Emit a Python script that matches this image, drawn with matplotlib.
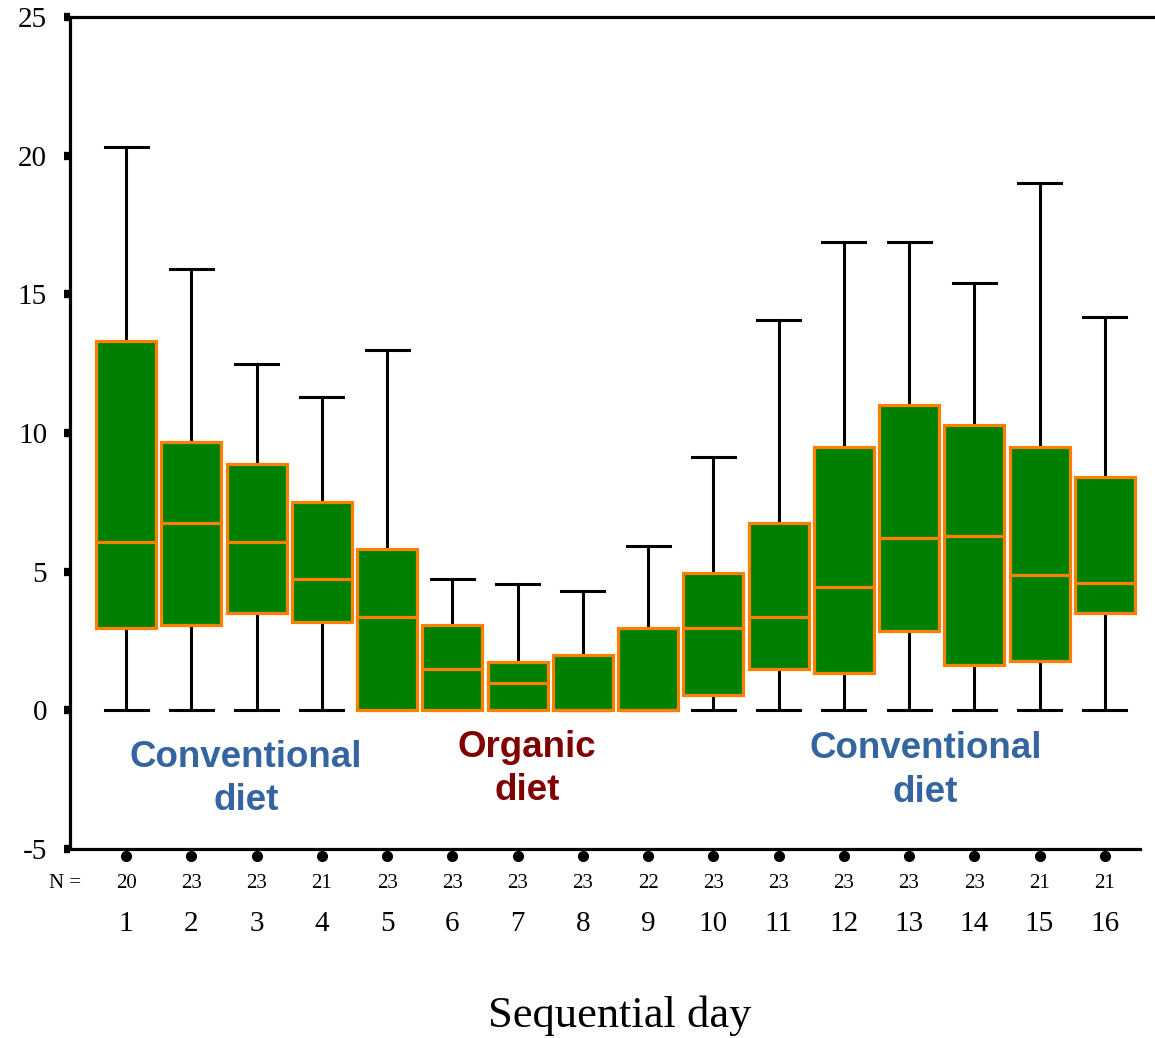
import matplotlib.pyplot as plt

# daily boxplot summaries
days = list(range(1, 17))
n_obs = [20, 23, 23, 21, 23, 23, 23, 23, 22, 23, 23, 23, 23, 23, 21, 21]
whislo = [0, 0, 0, 0, 0, 0, 0, 0, 0, 0, 0, 0, 0, 0, 0, 0]
q1 = [2.97, 3.08, 3.51, 3.19, 0, 0, 0, 0, 0, 0.57, 1.5, 1.36, 2.87, 1.65, 1.79, 3.51]
med = [6.06, 6.74, 6.06, 4.73, 3.37, 1.5, 0.97, 0, 0, 2.97, 3.37, 4.44, 6.2, 6.3, 4.87, 4.59]
q3 = [13.3, 9.68, 8.89, 7.53, 5.81, 3.08, 1.76, 2.0, 2.97, 4.95, 6.74, 9.5, 11.0, 10.3, 9.5, 8.42]
whishi = [20.3, 15.9, 12.47, 11.29, 13.0, 4.73, 4.55, 4.3, 5.91, 9.14, 14.09, 16.9, 16.9, 15.4, 19.0, 14.2]

stats = []
for i in range(len(days)):
    stats.append(dict(whislo=whislo[i], q1=q1[i], med=med[i], q3=q3[i],
                      whishi=whishi[i], fliers=[]))

plt.rcParams['font.family'] = ['Liberation Serif', 'DejaVu Serif']
plt.rcParams['axes.unicode_minus'] = False

fig = plt.figure(figsize=(11.55, 10.38), dpi=100)
ax = fig.add_axes([70/1155, 1-849/1038, (1140-70)/1155, (849-17)/1038])

orange = '#ff8000'
ax.bxp(stats, positions=days, widths=0.92, capwidths=0.66,
       patch_artist=True, showfliers=False,
       boxprops=dict(facecolor='#008000', edgecolor=orange, linewidth=2.3, zorder=3),
       medianprops=dict(color=orange, linewidth=2.3, zorder=4),
       whiskerprops=dict(color='black', linewidth=2.2, zorder=2),
       capprops=dict(color='black', linewidth=2.2, zorder=2))

ax.set_xlim(0.14, 16.54)
ax.set_ylim(-5, 25)
ax.set_yticks([-5, 0, 5, 10, 15, 20, 25])
ax.tick_params(axis='y', direction='out', length=4.5, width=6, labelsize=21, pad=12)
ax.tick_params(axis='x', length=0, labelbottom=False)

for s in ['left', 'bottom']:
    ax.spines[s].set_linewidth(2.3)
ax.spines['right'].set_visible(False)
ax.spines['top'].set_visible(False)
ax.plot([0, 1.015], [1, 1], color='black', lw=2.3, transform=ax.transAxes, clip_on=False)

# round marks under the x axis
tr = ax.get_xaxis_transform()
ax.plot(days, [-0.009] * len(days), 'ko', ms=7, transform=tr, clip_on=False)

for d, n in zip(days, n_obs):
    ax.text(d, -0.041, str(n), transform=tr, ha='center', va='center', fontsize=15)
    ax.text(d, -0.09, str(d), transform=tr, ha='center', va='center', fontsize=21)
ax.text(-0.005, -0.041, 'N =', transform=ax.transAxes, ha='center', va='center', fontsize=15)

fig.text(620/1155, 1-1016/1038, 'Sequential day', ha='center', va='center', fontsize=32)

blue = '#3565a0'
red = '#800000'
sans = ['Liberation Sans', 'DejaVu Sans']
ax.text(2.84, -2.46, 'Conventional\ndiet', ha='center', va='center', color=blue,
        fontsize=26.5, fontweight='bold', family=sans, linespacing=1.3)
ax.text(7.14, -2.1, 'Organic\ndiet', ha='center', va='center', color=red,
        fontsize=26.5, fontweight='bold', family=sans, linespacing=1.3)
ax.text(13.25, -2.17, 'Conventional\ndiet', ha='center', va='center', color=blue,
        fontsize=26.5, fontweight='bold', family=sans, linespacing=1.3)

fig.savefig('out.png', dpi=100)
